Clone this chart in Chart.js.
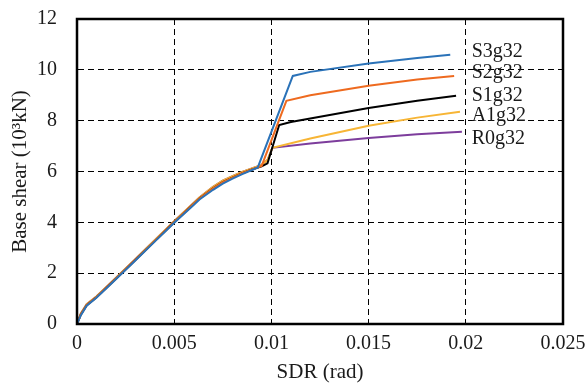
<!DOCTYPE html>
<html>
<head>
<meta charset="utf-8">
<script src="https://cdn.jsdelivr.net/npm/chart.js@4"></script>
<style>
html,body{margin:0;padding:0;background:#fff;}
#wrap{width:588px;height:383px;}
</style>
</head>
<body>
<div id="wrap"><canvas id="c" width="588" height="383"></canvas></div>
<script>
// ---- data ----
const seriesNames = ["S3g32", "S2g32", "S1g32", "A1g32", "R0g32"];
const seriesColors = ["#2a72b8", "#ee6a1f", "#000000", "#f7b535", "#7d3d9c"];

const sdrS3 = [0, 0.0002, 0.0005, 0.001, 0.002, 0.003, 0.004, 0.005, 0.006, 0.0063, 0.007, 0.0075, 0.008, 0.0085, 0.009, 0.0093, 0.0111, 0.012, 0.015, 0.0175, 0.0192];
const shearS3 = [0, 0.35, 0.72, 1.03, 1.76, 2.5, 3.24, 3.98, 4.68, 4.9, 5.28, 5.52, 5.72, 5.9, 6.06, 6.16, 9.76, 9.92, 10.25, 10.47, 10.59];

const sdrS2 = [0, 0.0002, 0.0005, 0.001, 0.002, 0.003, 0.004, 0.005, 0.006, 0.0063, 0.007, 0.0075, 0.008, 0.0085, 0.009, 0.0095, 0.01077, 0.012, 0.015, 0.0175, 0.0194];
const shearS2 = [0, 0.38, 0.74, 1.05, 1.78, 2.52, 3.26, 4.0, 4.72, 4.94, 5.34, 5.58, 5.76, 5.93, 6.08, 6.22, 8.78, 9.0, 9.37, 9.62, 9.76];

const sdrS1 = [0, 0.0002, 0.0005, 0.001, 0.002, 0.003, 0.004, 0.005, 0.006, 0.0063, 0.007, 0.0075, 0.008, 0.0085, 0.009, 0.0095, 0.0098, 0.0104, 0.011, 0.015, 0.0175, 0.0195];
const shearS1 = [0, 0.38, 0.74, 1.05, 1.78, 2.52, 3.26, 4.0, 4.72, 4.94, 5.34, 5.58, 5.76, 5.93, 6.08, 6.2, 6.32, 7.83, 7.95, 8.5, 8.78, 8.98];

const sdrA1 = [0, 0.0002, 0.0005, 0.001, 0.002, 0.003, 0.004, 0.005, 0.006, 0.0063, 0.007, 0.0075, 0.008, 0.0085, 0.009, 0.0095, 0.0098, 0.01005, 0.012, 0.015, 0.0175, 0.0197];
const shearA1 = [0, 0.42, 0.78, 1.08, 1.81, 2.55, 3.3, 4.04, 4.76, 4.98, 5.4, 5.64, 5.82, 5.98, 6.12, 6.26, 6.45, 6.93, 7.3, 7.8, 8.12, 8.35];

const sdrR0 = [0, 0.0002, 0.0005, 0.001, 0.002, 0.003, 0.004, 0.005, 0.006, 0.0063, 0.007, 0.0075, 0.008, 0.0085, 0.009, 0.0095, 0.0098, 0.01005, 0.012, 0.015, 0.0175, 0.0198];
const shearR0 = [0, 0.42, 0.78, 1.08, 1.81, 2.55, 3.3, 4.04, 4.76, 4.98, 5.4, 5.64, 5.82, 5.98, 6.12, 6.26, 6.45, 6.93, 7.1, 7.32, 7.47, 7.56];

const xTicks = [0, 0.005, 0.01, 0.015, 0.02, 0.025];
const xTickLabels = ["0", "0.005", "0.01", "0.015", "0.02", "0.025"];
const yTicks = [0, 2, 4, 6, 8, 10, 12];

// label anchors (data coords)
const labelX = 0.0203;
const labelY = [10.7, 9.9, 9.0, 8.2, 7.3];

const sdrAll = [sdrS3, sdrS2, sdrS1, sdrA1, sdrR0];
const shearAll = [shearS3, shearS2, shearS1, shearA1, shearR0];

const FONT = "'Liberation Serif', 'Times New Roman', serif";

const datasets = seriesNames.map((n, i) => ({
  label: n,
  data: sdrAll[i].map((x, j) => ({x: x, y: shearAll[i][j]})),
  borderColor: seriesColors[i],
  backgroundColor: seriesColors[i],
  borderWidth: 2,
  pointRadius: 0,
  tension: 0,
  fill: false
}));

const framePlugin = {
  id: 'frame',
  afterDraw(chart) {
    const {ctx, chartArea: a} = chart;
    ctx.save();
    ctx.strokeStyle = '#000';
    ctx.lineWidth = 2.5;
    ctx.setLineDash([]);
    ctx.beginPath();
    ctx.rect(a.left, a.top, a.right - a.left, a.bottom - a.top);
    ctx.stroke();
    // series labels
    ctx.fillStyle = '#1a1a1a';
    ctx.font = "20px " + FONT;
    ctx.textAlign = 'left';
    ctx.textBaseline = 'middle';
    const xs = chart.scales.x, ys = chart.scales.y;
    seriesNames.forEach((n, i) => {
      ctx.fillText(n, xs.getPixelForValue(labelX), ys.getPixelForValue(labelY[i]));
    });
    ctx.restore();
  }
};

new Chart(document.getElementById('c'), {
  type: 'line',
  data: {datasets},
  plugins: [framePlugin],
  options: {
    responsive: false,
    animation: false,
    layout: {padding: {left: 0, right: 25, top: 19, bottom: 0}},
    plugins: {legend: {display: false}, tooltip: {enabled: false}},
    scales: {
      x: {
        type: 'linear',
        min: 0, max: 0.025,
        afterBuildTicks(s) { s.ticks = xTicks.map(v => ({value: v})); },
        afterFit(s) { s.height = 59; },
        ticks: {
          color: '#1a1a1a',
          font: {family: FONT, size: 20},
          padding: 0,
          maxRotation: 0,
          callback: (v) => { const k = xTicks.indexOf(v); return k >= 0 ? xTickLabels[k] : ''; }
        },
        grid: {color: '#000', lineWidth: 1, drawTicks: true, tickLength: 8, tickColor: 'rgba(0,0,0,0)'},
        border: {display: true, color: '#000', width: 2, dash: [6, 4]},
        title: {display: true, text: 'SDR (rad)', color: '#1a1a1a', font: {family: FONT, size: 21}, padding: {top: 0, bottom: -2}}
      },
      y: {
        type: 'linear',
        min: 0, max: 12,
        afterBuildTicks(s) { s.ticks = yTicks.map(v => ({value: v})); },
        afterFit(s) { s.width = 77; },
        ticks: {
          color: '#1a1a1a',
          font: {family: FONT, size: 20},
          padding: 0
        },
        grid: {color: '#000', lineWidth: 1, drawTicks: true, tickLength: 20, tickColor: 'rgba(0,0,0,0)'},
        border: {display: true, color: '#000', width: 2, dash: [6, 4]},
        title: {display: true, text: 'Base shear (10³kN)', color: '#1a1a1a', font: {family: FONT, size: 21}, padding: {top: 8, bottom: 0}}
      }
    }
  }
});
</script>
</body>
</html>
